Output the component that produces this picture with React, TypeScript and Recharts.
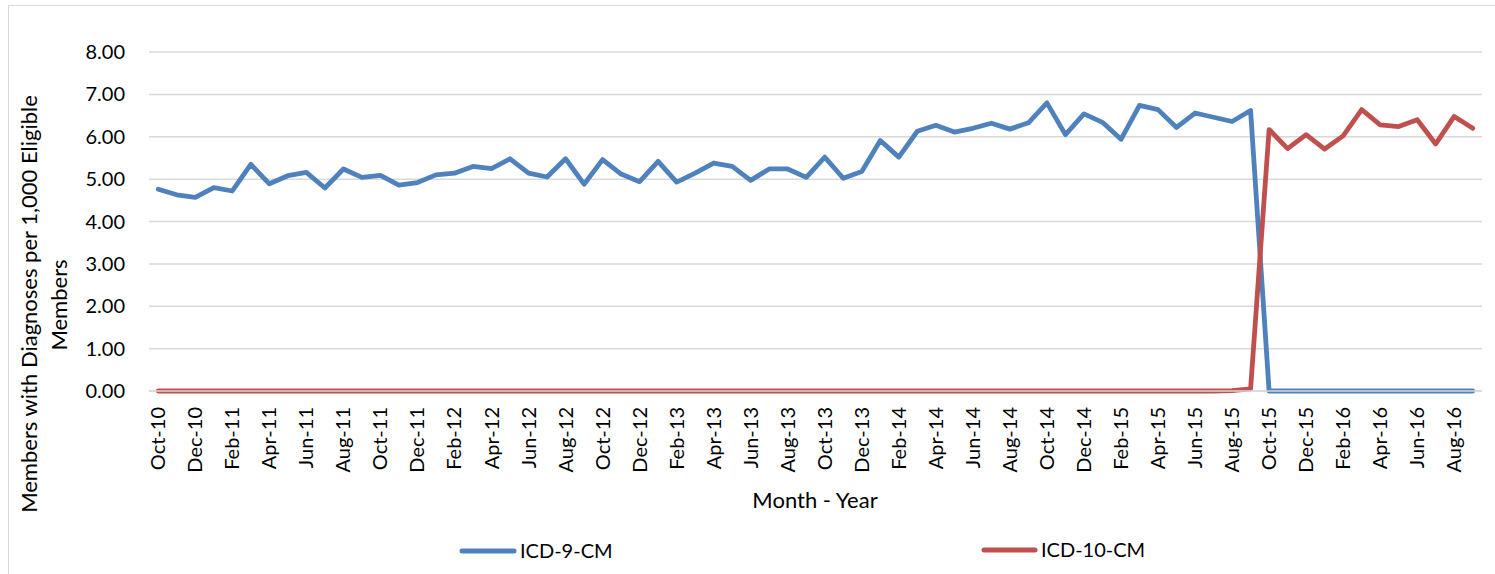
import React from 'react';
import { LineChart, Line, XAxis, YAxis, CartesianGrid } from 'recharts';

// Month labels, Oct-10 .. Sep-16
const months = [
  'Oct-10', 'Nov-10', 'Dec-10', 'Jan-11', 'Feb-11', 'Mar-11', 'Apr-11', 'May-11', 'Jun-11', 'Jul-11', 'Aug-11', 'Sep-11',
  'Oct-11', 'Nov-11', 'Dec-11', 'Jan-12', 'Feb-12', 'Mar-12', 'Apr-12', 'May-12', 'Jun-12', 'Jul-12', 'Aug-12', 'Sep-12',
  'Oct-12', 'Nov-12', 'Dec-12', 'Jan-13', 'Feb-13', 'Mar-13', 'Apr-13', 'May-13', 'Jun-13', 'Jul-13', 'Aug-13', 'Sep-13',
  'Oct-13', 'Nov-13', 'Dec-13', 'Jan-14', 'Feb-14', 'Mar-14', 'Apr-14', 'May-14', 'Jun-14', 'Jul-14', 'Aug-14', 'Sep-14',
  'Oct-14', 'Nov-14', 'Dec-14', 'Jan-15', 'Feb-15', 'Mar-15', 'Apr-15', 'May-15', 'Jun-15', 'Jul-15', 'Aug-15', 'Sep-15',
  'Oct-15', 'Nov-15', 'Dec-15', 'Jan-16', 'Feb-16', 'Mar-16', 'Apr-16', 'May-16', 'Jun-16', 'Jul-16', 'Aug-16', 'Sep-16',
];

const icd9 = [
  4.76, 4.63, 4.57, 4.80, 4.72, 5.35, 4.89, 5.08, 5.16, 4.79, 5.24, 5.04,
  5.09, 4.86, 4.92, 5.10, 5.14, 5.30, 5.25, 5.48, 5.14, 5.05, 5.48, 4.88,
  5.46, 5.12, 4.94, 5.42, 4.93, 5.14, 5.38, 5.30, 4.97, 5.24, 5.24, 5.04,
  5.52, 5.02, 5.18, 5.91, 5.52, 6.13, 6.27, 6.11, 6.20, 6.32, 6.18, 6.33,
  6.80, 6.05, 6.54, 6.34, 5.94, 6.74, 6.64, 6.22, 6.56, 6.46, 6.36, 6.62,
  0, 0, 0, 0, 0, 0, 0, 0, 0, 0, 0, 0,
];

const icd10 = [
  0, 0, 0, 0, 0, 0, 0, 0, 0, 0, 0, 0,
  0, 0, 0, 0, 0, 0, 0, 0, 0, 0, 0, 0,
  0, 0, 0, 0, 0, 0, 0, 0, 0, 0, 0, 0,
  0, 0, 0, 0, 0, 0, 0, 0, 0, 0, 0, 0,
  0, 0, 0, 0, 0, 0, 0, 0, 0, 0, 0.01, 0.05,
  6.17, 5.72, 6.05, 5.71, 6.02, 6.64, 6.28, 6.24, 6.40, 5.83, 6.48, 6.20,
];

const yTicks = [0, 1, 2, 3, 4, 5, 6, 7, 8];

const BLUE = '#4F81BD';
const RED = '#C0504D';
const FONT = 'Lato, "Noto Sans", sans-serif';

const data = months.map((month, i) => ({ month, icd9: icd9[i], icd10: icd10[i] }));

const YTick = (props: any) => {
  const { y, payload } = props;
  return (
    <text x={125} y={y} dy="0.35em" textAnchor="end" fontSize={20} fontFamily={FONT} fill="#000">
      {Number(payload.value).toFixed(2)}
    </text>
  );
};

const XTick = (props: any) => {
  const { x, y, payload } = props;
  return (
    <g transform={`translate(${x},${y})`}>
      <text x={-8} y={0} dy="0.35em" transform="rotate(-90)" textAnchor="end" fontSize={20} fontFamily={FONT} fill="#000">
        {payload.value}
      </text>
    </g>
  );
};

const App: React.FC = () => {
  return (
    <div style={{ position: 'absolute', left: 0, top: 0, width: 1495, height: 574, background: '#fff' }}>
      <div style={{ position: 'absolute', left: 8, top: 5, width: 1495, height: 600, border: '1.5px solid #D9D9D9', boxSizing: 'border-box' }} />
      <div style={{ position: 'absolute', left: 0, top: 0 }}>
        <LineChart width={1495} height={574} data={data} margin={{ top: 52, right: 13, bottom: 0, left: 0 }}>
          <CartesianGrid vertical={false} stroke="#D9D9D9" strokeWidth={1.5} />
          <XAxis
            dataKey="month"
            interval={1}
            tickLine={false}
            axisLine={{ stroke: '#D9D9D9', strokeWidth: 1.5 }}
            tick={<XTick />}
            height={183}
            padding={{ left: 9.25, right: 9.25 }}
          />
          <YAxis
            domain={[0, 8]}
            ticks={yTicks}
            width={149}
            axisLine={false}
            tickLine={false}
            tick={<YTick />}
          />
          <Line type="linear" dataKey="icd9" name="ICD-9-CM" stroke={BLUE} strokeWidth={4.8} dot={false} strokeLinejoin="round" strokeLinecap="round" isAnimationActive={false} />
          <Line type="linear" dataKey="icd10" name="ICD-10-CM" stroke={RED} strokeWidth={4.8} dot={false} strokeLinejoin="round" strokeLinecap="round" isAnimationActive={false} />
        </LineChart>
      </div>
      <svg width={1495} height={574} style={{ position: 'absolute', left: 0, top: 0, pointerEvents: 'none' }}>
        <g fontFamily={FONT} fill="#000">
          <text transform="translate(29,304) rotate(-90)" textAnchor="middle" dy="0.35em" fontSize={22}>
            Members with Diagnoses per 1,000 Eligible
          </text>
          <text transform="translate(59,305) rotate(-90)" textAnchor="middle" dy="0.35em" fontSize={22}>
            Members
          </text>
          <text x={815} y={500} textAnchor="middle" dy="0.35em" fontSize={22}>Month - Year</text>
          <line x1={462} y1={551} x2={514} y2={551} stroke={BLUE} strokeWidth={5} strokeLinecap="round" />
          <text x={520} y={551} dy="0.35em" fontSize={20}>ICD-9-CM</text>
          <line x1={984} y1={550} x2={1035} y2={550} stroke={RED} strokeWidth={5} strokeLinecap="round" />
          <text x={1041} y={550} dy="0.35em" fontSize={20}>ICD-10-CM</text>
        </g>
      </svg>
    </div>
  );
};

export default App;
